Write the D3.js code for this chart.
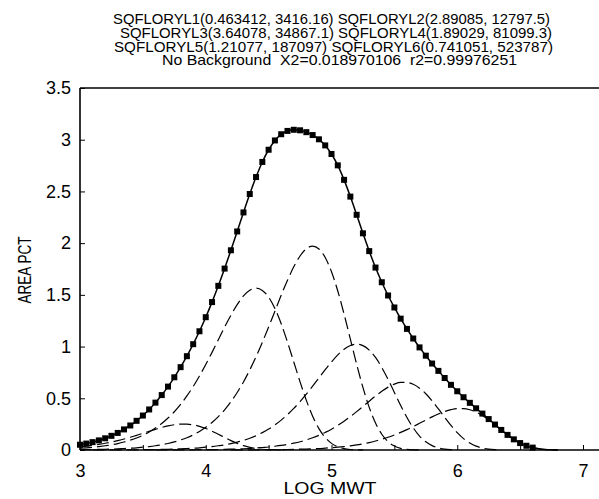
<!DOCTYPE html>
<html>
<head>
<meta charset="utf-8">
<script src="https://cdn.jsdelivr.net/npm/d3@7"></script>
<style>
  body { margin: 0; background: #fff; }
  text { font-family: "Liberation Sans", Arial, sans-serif; fill: #000; }
</style>
</head>
<body>
<svg id="chart" width="599" height="499"></svg>
<script>
// header text of the fit report
const titleLines = [
  "SQFLORYL1(0.463412, 3416.16) SQFLORYL2(2.89085, 12797.5)",
  "SQFLORYL3(3.64078, 34867.1) SQFLORYL4(1.89029, 81099.3)",
  "SQFLORYL5(1.21077, 187097) SQFLORYL6(0.741051, 523787)",
  "No Background  X2=0.018970106  r2=0.99976251"
];

const xTicks = [3, 3.5, 4, 4.5, 5, 5.5, 6, 6.5, 7];
const yTicks = [0, 0.5, 1, 1.5, 2, 2.5, 3, 3.5];

// log MWT slices
const logMwt = [
  3.00, 3.05, 3.10, 3.15, 3.20, 3.25, 3.30, 3.35, 3.40, 3.45,
  3.50, 3.55, 3.60, 3.65, 3.70, 3.75, 3.80, 3.85, 3.90, 3.95,
  4.00, 4.05, 4.10, 4.15, 4.20, 4.25, 4.30, 4.35, 4.40, 4.45,
  4.50, 4.55, 4.60, 4.65, 4.70, 4.75, 4.80, 4.85, 4.90, 4.95,
  5.00, 5.05, 5.10, 5.15, 5.20, 5.25, 5.30, 5.35, 5.40, 5.45,
  5.50, 5.55, 5.60, 5.65, 5.70, 5.75, 5.80, 5.85, 5.90, 5.95,
  6.00, 6.05, 6.10, 6.15, 6.20, 6.25, 6.30, 6.35, 6.40, 6.45,
  6.50, 6.55, 6.60, 6.65, 6.70, 6.75, 6.80
];

// measured area pct (squares + solid line)
const areaPct = [
  0.051, 0.062, 0.076, 0.093, 0.113, 0.137, 0.165, 0.199, 0.237, 0.282,
  0.333, 0.392, 0.458, 0.531, 0.613, 0.703, 0.801, 0.907, 1.023, 1.148,
  1.284, 1.430, 1.587, 1.754, 1.931, 2.113, 2.297, 2.475, 2.639, 2.785,
  2.903, 2.993, 3.053, 3.085, 3.096, 3.091, 3.073, 3.045, 3.004, 2.945,
  2.862, 2.752, 2.612, 2.450, 2.274, 2.095, 1.923, 1.764, 1.622, 1.494,
  1.378, 1.270, 1.171, 1.078, 0.992, 0.912, 0.836, 0.765, 0.696, 0.630,
  0.568, 0.510, 0.456, 0.403, 0.352, 0.299, 0.246, 0.194, 0.146, 0.103,
  0.067, 0.041, 0.023, 0.012, 0.005, 0.002, 0.001
];

// fitted components (dashed)
const sqflory1 = [
  0.031, 0.037, 0.045, 0.054, 0.065, 0.077, 0.091, 0.106, 0.123, 0.142,
  0.161, 0.181, 0.200, 0.218, 0.233, 0.244, 0.250, 0.250, 0.243, 0.229,
  0.208, 0.182, 0.152, 0.121, 0.091, 0.064, 0.042, 0.026, 0.014, 0.007,
  0.003, 0.001, 0.001, 0, 0, 0, 0, 0, 0, 0,
  0, 0, 0, 0, 0, 0, 0, 0, 0, 0,
  0, 0, 0, 0, 0, 0, 0, 0, 0, 0,
  0, 0, 0, 0, 0, 0, 0, 0, 0, 0,
  0, 0, 0, 0, 0, 0, 0
];
const sqflory2 = [
  0.017, 0.021, 0.026, 0.033, 0.041, 0.050, 0.062, 0.077, 0.095, 0.116,
  0.142, 0.174, 0.212, 0.256, 0.309, 0.370, 0.441, 0.523, 0.614, 0.716,
  0.827, 0.944, 1.066, 1.188, 1.303, 1.406, 1.490, 1.545, 1.565, 1.543,
  1.478, 1.368, 1.220, 1.043, 0.851, 0.659, 0.480, 0.327, 0.207, 0.121,
  0.064, 0.031, 0.013, 0.005, 0.002, 0.001, 0, 0, 0, 0,
  0, 0, 0, 0, 0, 0, 0, 0, 0, 0,
  0, 0, 0, 0, 0, 0, 0, 0, 0, 0,
  0, 0, 0, 0, 0, 0, 0
];
const sqflory3 = [
  0.003, 0.004, 0.004, 0.006, 0.007, 0.009, 0.011, 0.014, 0.017, 0.021,
  0.027, 0.033, 0.041, 0.051, 0.063, 0.078, 0.097, 0.119, 0.146, 0.179,
  0.219, 0.266, 0.323, 0.389, 0.467, 0.556, 0.658, 0.774, 0.902, 1.041,
  1.189, 1.342, 1.496, 1.641, 1.771, 1.876, 1.946, 1.971, 1.944, 1.861,
  1.723, 1.537, 1.314, 1.072, 0.829, 0.605, 0.412, 0.261, 0.152, 0.080,
  0.038, 0.016, 0.006, 0.002, 0.001, 0, 0, 0, 0, 0,
  0, 0, 0, 0, 0, 0, 0, 0, 0, 0,
  0, 0, 0, 0, 0, 0, 0
];
const sqflory4 = [
  0, 0, 0.001, 0.001, 0.001, 0.001, 0.001, 0.002, 0.002, 0.002,
  0.003, 0.004, 0.005, 0.006, 0.007, 0.009, 0.011, 0.014, 0.017, 0.021,
  0.027, 0.033, 0.041, 0.050, 0.062, 0.076, 0.093, 0.114, 0.138, 0.168,
  0.202, 0.242, 0.289, 0.342, 0.402, 0.468, 0.541, 0.617, 0.697, 0.777,
  0.852, 0.920, 0.974, 1.010, 1.023, 1.009, 0.966, 0.895, 0.798, 0.682,
  0.557, 0.431, 0.314, 0.214, 0.135, 0.079, 0.042, 0.020, 0.008, 0.003,
  0.001, 0, 0, 0, 0, 0, 0, 0, 0, 0,
  0, 0, 0, 0, 0, 0, 0
];
const sqflory5 = [
  0, 0, 0, 0, 0, 0, 0, 0, 0, 0,
  0, 0, 0.001, 0.001, 0.001, 0.001, 0.001, 0.002, 0.002, 0.003,
  0.003, 0.004, 0.005, 0.006, 0.008, 0.010, 0.012, 0.015, 0.019, 0.024,
  0.029, 0.036, 0.044, 0.054, 0.066, 0.080, 0.098, 0.118, 0.142, 0.170,
  0.201, 0.238, 0.278, 0.323, 0.371, 0.421, 0.472, 0.522, 0.568, 0.608,
  0.637, 0.653, 0.653, 0.635, 0.598, 0.544, 0.475, 0.397, 0.316, 0.237,
  0.168, 0.110, 0.067, 0.037, 0.019, 0.008, 0.003, 0.001, 0, 0,
  0, 0, 0, 0, 0, 0, 0
];
const sqflory6 = [
  0, 0, 0, 0, 0, 0, 0, 0, 0, 0,
  0, 0, 0, 0, 0, 0, 0, 0, 0, 0,
  0, 0, 0, 0, 0.001, 0.001, 0.001, 0.001, 0.002, 0.002,
  0.003, 0.003, 0.004, 0.005, 0.006, 0.008, 0.009, 0.012, 0.014, 0.018,
  0.022, 0.027, 0.033, 0.040, 0.049, 0.060, 0.072, 0.087, 0.104, 0.123,
  0.145, 0.170, 0.197, 0.227, 0.258, 0.289, 0.320, 0.348, 0.372, 0.390,
  0.400, 0.400, 0.389, 0.366, 0.333, 0.291, 0.243, 0.193, 0.145, 0.103,
  0.067, 0.041, 0.023, 0.012, 0.005, 0.002, 0.001
];
const components = [sqflory1, sqflory2, sqflory3, sqflory4, sqflory5, sqflory6];

const width = 599;
const height = 499;
const margin = {top: 88, right: 16, bottom: 49, left: 80};

let svg = d3.select('#chart')
  .attr('width', width)
  .attr('height', height);

const x = d3.scaleLinear().domain([3, 7]).range([margin.left, width - margin.right]);
const y = d3.scaleLinear().domain([0, 3.5]).range([height - margin.bottom, margin.top]);

// title block
const titleX = [113, 120, 114, 162];
const titleLen = [437, 432, 439, 355];
svg.selectAll('.title')
  .data(titleLines)
  .enter()
  .append('text')
    .attr('class', 'title')
    .attr('x', (d, i) => titleX[i])
    .attr('y', (d, i) => 24 + i * 13.8)
    .attr('font-size', 14.5)
    .attr('textLength', (d, i) => titleLen[i])
    .attr('lengthAdjust', 'spacingAndGlyphs')
    .style('white-space', 'pre')
    .text(d => d);

// axes
svg.append('g')
    .attr('transform', `translate(0,${y(0)})`)
    .call(d3.axisBottom(x)
      .tickValues(xTicks)
      .tickSize(-5)
      .tickSizeOuter(0)
      .tickPadding(14)
      .tickFormat(d => Number.isInteger(d) ? d : ''))
    .call(g => g.select('.domain').remove())
    .call(g => g.selectAll('text').attr('font-size', 18).style('font-family', '"Liberation Sans", Arial, sans-serif'));

svg.append('g')
    .attr('transform', `translate(${x(3)},0)`)
    .call(d3.axisLeft(y)
      .tickValues(yTicks)
      .tickSize(-5)
      .tickSizeOuter(0)
      .tickPadding(9)
      .tickFormat(d => String(d)))
    .call(g => g.select('.domain').remove())
    .call(g => g.selectAll('text').attr('font-size', 18).style('font-family', '"Liberation Sans", Arial, sans-serif'));

// frame: left, bottom and top lines
svg.append('line')
    .attr('x1', x(3)).attr('x2', x(3))
    .attr('y1', y(3.5)).attr('y2', y(0))
    .attr('stroke', '#000').attr('stroke-width', 1.6);
svg.append('line')
    .attr('x1', x(3)).attr('x2', width)
    .attr('y1', y(0)).attr('y2', y(0))
    .attr('stroke', '#000').attr('stroke-width', 1.6);
svg.append('line')
    .attr('x1', x(3)).attr('x2', width)
    .attr('y1', y(3.5)).attr('y2', y(3.5))
    .attr('stroke', '#000').attr('stroke-width', 1.3);

svg.append('text')
    .attr('transform', `translate(25,${(y(0) + y(3.5)) / 2 + 1}) rotate(-90)`)
    .attr('text-anchor', 'middle')
    .attr('dominant-baseline', 'central')
    .attr('font-size', 18)
    .attr('textLength', 67)
    .attr('lengthAdjust', 'spacingAndGlyphs')
    .text('AREA PCT');

svg.append('text')
    .attr('x', 330)
    .attr('y', 494)
    .attr('text-anchor', 'middle')
    .attr('font-size', 17)
    .attr('textLength', 93)
    .attr('lengthAdjust', 'spacingAndGlyphs')
    .text('LOG MWT');

// dashed components
const compLine = d3.line()
    .defined(d => d[1] > 0)
    .x(d => x(d[0]))
    .y(d => y(d[1]))
    .curve(d3.curveMonotoneX);

svg.selectAll('.comp')
  .data(components)
  .enter()
  .append('path')
    .attr('class', 'comp')
    .attr('d', c => compLine(c.map((v, i) => [logMwt[i], v])))
    .attr('fill', 'none')
    .attr('stroke', '#000')
    .attr('stroke-width', 1.2)
    .attr('stroke-dasharray', '12,5');

// solid sum line and square data markers
const pts = areaPct.map((v, i) => [logMwt[i], v]);
svg.append('path')
    .attr('d', d3.line().x(d => x(d[0])).y(d => y(d[1])).curve(d3.curveMonotoneX)(pts))
    .attr('fill', 'none')
    .attr('stroke', '#000')
    .attr('stroke-width', 1.5);

const sq = 6;
svg.selectAll('.pt')
  .data(pts.filter(d => d[0] <= 6.6))
  .enter()
  .append('rect')
    .attr('class', 'pt')
    .attr('x', d => x(d[0]) - sq / 2)
    .attr('y', d => y(d[1]) - sq / 2)
    .attr('width', sq)
    .attr('height', sq)
    .attr('fill', '#000');
</script>
</body>
</html>
